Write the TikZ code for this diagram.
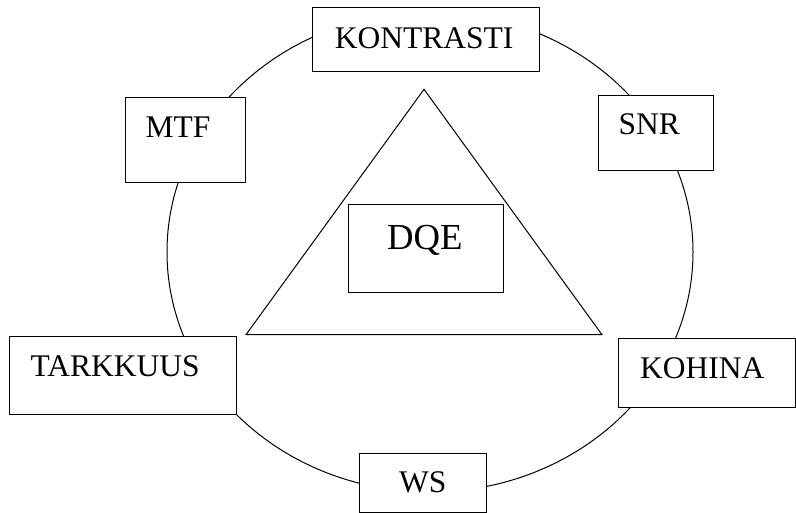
\documentclass[tikz,border=0pt]{standalone}
\usepackage{fontspec}
\setmainfont{Liberation Serif}
\begin{document}
\begin{tikzpicture}[x=1pt, y=-1pt,
    box/.style={draw, fill=white, line width=1.1pt, inner sep=0pt, anchor=north west},
    txt/.style={anchor=base west, inner sep=0pt, font=\fontsize{31.5}{36}\selectfont},
    bigtxt/.style={txt, font=\fontsize{36.7}{42}\selectfont}]
      \useasboundingbox (0,0) rectangle (796,513);
      % ring and triangle
      \draw[line width=1pt] (430,252) ellipse [x radius=263pt, y radius=240pt];
      \coordinate (top) at (424,89.3);
      \coordinate (right) at (602,334.7);
      \coordinate (left) at (246,334.7);
      \draw[line width=1pt] (top) -- (right) -- (left) -- cycle;
      % boxes
      \node (kon) at (312,7.3) [box, minimum width=226.7pt, minimum height=63.4pt] {};
      \node (mtf) at (124.7,97.3) [box, minimum width=120.3pt, minimum height=84.4pt] {};
      \node (snr) at (598,94.7) [box, minimum width=114.7pt, minimum height=75pt] {};
      \node (tar) at (9.3,336.3) [box, minimum width=226.7pt, minimum height=77.4pt] {};
      \node (koh) at (617.7,338.3) [box, minimum width=177.3pt, minimum height=69pt] {};
      \node (ws) at (359.3,452.7) [box, minimum width=126.7pt, minimum height=59pt] {};
      \node (dqe) at (348.3,204) [box, minimum width=155pt, minimum height=87.7pt] {};
      % texts
      \node (kon-t) at (334.7,48.3) [txt] {KONTRASTI};
      \node (mtf-t) at (145.5,138) [txt] {MTF};
      \node (snr-t) at (618.5,135) [txt] {SNR};
      \node (tar-t) at (30.5,377) [txt] {TARKKUUS};
      \node (koh-t) at (640,378) [txt] {KOHINA};
      \node (ws-t) at (399,492.7) [txt] {WS};
      \node (dqe-t) at (387,249.3) [bigtxt] {DQE};
\end{tikzpicture}
\end{document}
